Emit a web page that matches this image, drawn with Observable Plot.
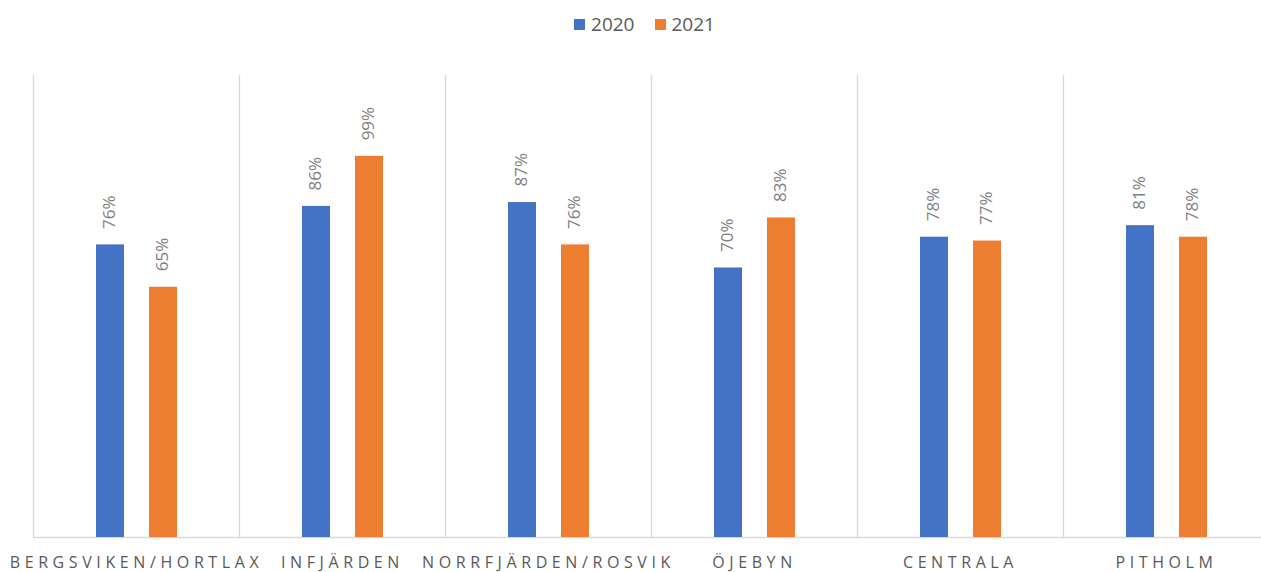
<!DOCTYPE html>
<html>
<head>
<meta charset="utf-8">
<script src="https://cdn.jsdelivr.net/npm/d3@7"></script>
<script src="https://cdn.jsdelivr.net/npm/@observablehq/plot@0.6"></script>
<style>
  html, body { margin: 0; padding: 0; background: #fff; }
  body { width: 1261px; height: 572px; overflow: hidden; font-family: "Open Sans", "DejaVu Sans", sans-serif; }
  #legend { height: 50px; display: flex; justify-content: center; align-items: center; padding-left: 28px; padding-bottom: 2px; box-sizing: border-box; font-size: 19px; line-height: 1; color: #595959; }
  .item { display: flex; align-items: center; margin: 0 10px; }
  .sw { width: 11px; height: 11px; display: inline-block; margin-right: 6px; }
  g[aria-label="x-axis tick label"] text { letter-spacing: 4.6px; }
</style>
</head>
<body>
<div id="legend"></div>
<div id="chart"></div>
<script>
const categories = ["BERGSVIKEN/HORTLAX", "INFJÄRDEN", "NORRFJÄRDEN/ROSVIK", "ÖJEBYN", "CENTRALA", "PITHOLM"];
const series = ["2020", "2021"];
const values2020 = [0.76, 0.86, 0.87, 0.70, 0.78, 0.81];
const values2021 = [0.65, 0.99, 0.76, 0.83, 0.77, 0.78];
const colors = ["#4472c4", "#ed7d31"];

const data2020 = categories.map((c, i) => ({category: c, value: values2020[i]}));
const data2021 = categories.map((c, i) => ({category: c, value: values2021[i]}));
const fmt = d3.format(".0%");

const legend = document.getElementById("legend");
series.forEach((s, i) => {
  const it = document.createElement("div");
  it.className = "item";
  it.innerHTML = `<span class="sw" style="background:${colors[i]}"></span><span>${s}</span>`;
  legend.appendChild(it);
});

const chart = Plot.plot({
  width: 1261,
  height: 522,
  marginLeft: 33,
  marginRight: -8,
  marginTop: 25,
  marginBottom: 35,
  style: {fontFamily: "'Open Sans', 'DejaVu Sans', sans-serif", color: "#595959", overflow: "visible"},
  x: {domain: categories, padding: 0, label: null},
  y: {domain: [0, 1.2], axis: null},
  marks: [
    Plot.ruleX(categories, {x: d => d, y1: 0, y2: 1.2, dx: -103, stroke: "#d9d9d9", strokeWidth: 1.3}),
    Plot.ruleY([0], {stroke: "#d9d9d9", strokeWidth: 1.3}),
    Plot.barY(data2020, {x: "category", y: "value", fill: colors[0], insetLeft: 63, insetRight: 115}),
    Plot.barY(data2021, {x: "category", y: "value", fill: colors[1], insetLeft: 116, insetRight: 62}),
    Plot.text(data2020, {x: "category", y: "value", text: d => fmt(d.value), rotate: -90, textAnchor: "start", dx: -27, dy: -16, fontSize: 17, fill: "#7f7f7f"}),
    Plot.text(data2021, {x: "category", y: "value", text: d => fmt(d.value), rotate: -90, textAnchor: "start", dx: 26, dy: -16, fontSize: 17, fill: "#7f7f7f"}),
    Plot.axisX({tickSize: 0, tickPadding: 19, fontSize: 16, label: null, fill: "#595959"})
  ]
});
document.getElementById("chart").appendChild(chart);
</script>
</body>
</html>
